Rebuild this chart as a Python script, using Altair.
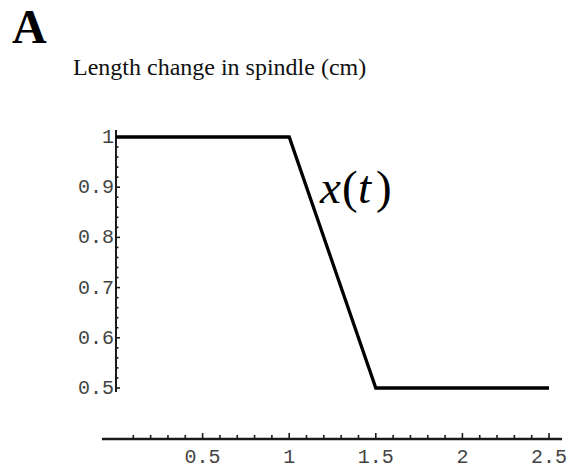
import altair as alt
import pandas as pd

# Spindle length x(t): plateau, linear shortening, plateau
time_s = [0.0, 1.0, 1.5, 2.5]
length_cm = [1.0, 1.0, 0.5, 0.5]

# Axis ticks
x_tick_values = [0.5, 1.0, 1.5, 2.0, 2.5]
x_tick_labels = ["0.5", "1", "1.5", "2", "2.5"]
x_minor_values = [0.1, 0.2, 0.3, 0.4, 0.6, 0.7, 0.8, 0.9, 1.1, 1.2, 1.3, 1.4,
                  1.6, 1.7, 1.8, 1.9, 2.1, 2.2, 2.3, 2.4]
y_tick_values = [0.5, 0.6, 0.7, 0.8, 0.9, 1.0]
y_tick_labels = ["0.5", "0.6", "0.7", "0.8", "0.9", "1"]
y_minor_values = [0.52, 0.54, 0.56, 0.58, 0.62, 0.64, 0.66, 0.68,
                  0.72, 0.74, 0.76, 0.78, 0.82, 0.84, 0.86, 0.88,
                  0.92, 0.94, 0.96, 0.98]

# Where the two axis lines sit, in data units
x_axis_level = 0.3984
x_axis_from, x_axis_to = -0.081, 2.575
y_axis_level = 0.0
y_axis_from, y_axis_to = 0.492, 1.014

# Curve label x(t), typeset as italic symbols with upright parentheses
label_pieces = ["x", "(", "t", ")"]
label_italic = [True, False, True, False]
label_shift_px = [0, 22, 38, 56]
curve_label_t, curve_label_x = 1.178, 0.8685

panel_letter = "A"
panel_caption = "Length change in spindle (cm)"

W, H = 574, 468
xs = alt.Scale(domain=[-0.6697, 2.6443], nice=False, zero=False)
ys = alt.Scale(domain=[0.3406, 1.2729], nice=False, zero=False)

AXIS_COLOR = "#1a1a1a"
LABEL_COLOR = "#444444"
MONO = "Liberation Mono"
SERIF = "Liberation Serif"


def X(field):
    return alt.X(field, type="quantitative", scale=xs, axis=None)


def Y(field):
    return alt.Y(field, type="quantitative", scale=ys, axis=None)


curve_df = pd.DataFrame({"t": time_s, "x": length_cm})
curve = alt.Chart(curve_df).mark_line(
    color="black", strokeWidth=3.3, strokeJoin="miter"
).encode(x=X("t"), y=Y("x"))

# Horizontal axis
xaxis_df = pd.DataFrame({"a": [x_axis_from], "b": [x_axis_to], "lvl": [x_axis_level]})
xaxis_line = alt.Chart(xaxis_df).mark_rule(color=AXIS_COLOR, strokeWidth=2.3).encode(
    x=X("a"), x2="b", y=Y("lvl")
)

xmaj_df = pd.DataFrame({"v": x_tick_values, "lab": x_tick_labels,
                        "lvl": [x_axis_level] * len(x_tick_values)})
xmin_df = pd.DataFrame({"v": x_minor_values, "lvl": [x_axis_level] * len(x_minor_values)})

xmaj_ticks = alt.Chart(xmaj_df).mark_rule(
    color=AXIS_COLOR, strokeWidth=1.6, y2Offset=-6
).encode(x=X("v"), y=Y("lvl"), y2="lvl")
xmin_ticks = alt.Chart(xmin_df).mark_rule(
    color=AXIS_COLOR, strokeWidth=1.6, y2Offset=-4
).encode(x=X("v"), y=Y("lvl"), y2="lvl")
xlabels = alt.Chart(xmaj_df).mark_text(
    font=MONO, fontSize=20, color=LABEL_COLOR, align="center",
    baseline="alphabetic", dy=24
).encode(x=X("v"), y=Y("lvl"), text="lab:N")

# Vertical axis
yaxis_df = pd.DataFrame({"a": [y_axis_from], "b": [y_axis_to], "lvl": [y_axis_level]})
yaxis_line = alt.Chart(yaxis_df).mark_rule(color=AXIS_COLOR, strokeWidth=2.0).encode(
    y=Y("a"), y2="b", x=X("lvl")
)

ymaj_df = pd.DataFrame({"v": y_tick_values, "lab": y_tick_labels,
                        "lvl": [y_axis_level] * len(y_tick_values)})
ymin_df = pd.DataFrame({"v": y_minor_values, "lvl": [y_axis_level] * len(y_minor_values)})

ymaj_ticks = alt.Chart(ymaj_df).mark_rule(
    color=AXIS_COLOR, strokeWidth=1.6, x2Offset=4
).encode(y=Y("v"), x=X("lvl"), x2="lvl")
ymin_ticks = alt.Chart(ymin_df).mark_rule(
    color=AXIS_COLOR, strokeWidth=1.6, x2Offset=2.5
).encode(y=Y("v"), x=X("lvl"), x2="lvl")
ylabels = alt.Chart(ymaj_df).mark_text(
    font=MONO, fontSize=20, color=LABEL_COLOR, align="right",
    baseline="middle", dx=-2
).encode(y=Y("v"), x=X("lvl"), text="lab:N")

# Curve label x(t): one text mark per glyph, shifted along the baseline
label_df = pd.DataFrame({"t": [curve_label_t], "x": [curve_label_x]})
label_layers = []
for piece, italic, shift in zip(label_pieces, label_italic, label_shift_px):
    label_layers.append(
        alt.Chart(label_df.assign(s=piece)).mark_text(
            font=SERIF, fontStyle="italic" if italic else "normal",
            fontSize=47, color="black", align="left",
            baseline="alphabetic", dx=shift
        ).encode(x=X("t"), y=Y("x"), text="s:N")
    )

# Panel letter and caption
letter = alt.Chart(pd.DataFrame({"s": [panel_letter]})).mark_text(
    font=SERIF, fontWeight="bold", fontSize=48, color="black",
    align="left", baseline="alphabetic"
).encode(x=alt.value(12), y=alt.value(43), text="s:N")
caption = alt.Chart(pd.DataFrame({"s": [panel_caption]})).mark_text(
    font=SERIF, fontSize=24, color="#111111",
    align="left", baseline="alphabetic"
).encode(x=alt.value(73), y=alt.value(75), text="s:N")

chart = alt.layer(
    xaxis_line, xmin_ticks, xmaj_ticks, xlabels,
    yaxis_line, ymin_ticks, ymaj_ticks, ylabels,
    curve, *label_layers, letter, caption,
).properties(
    width=W, height=H, padding=0,
    autosize=alt.AutoSizeParams(type="none"),
    background="white",
).configure_view(stroke=None)

chart.save("out.html", embed_options={"renderer": "svg", "actions": False})
